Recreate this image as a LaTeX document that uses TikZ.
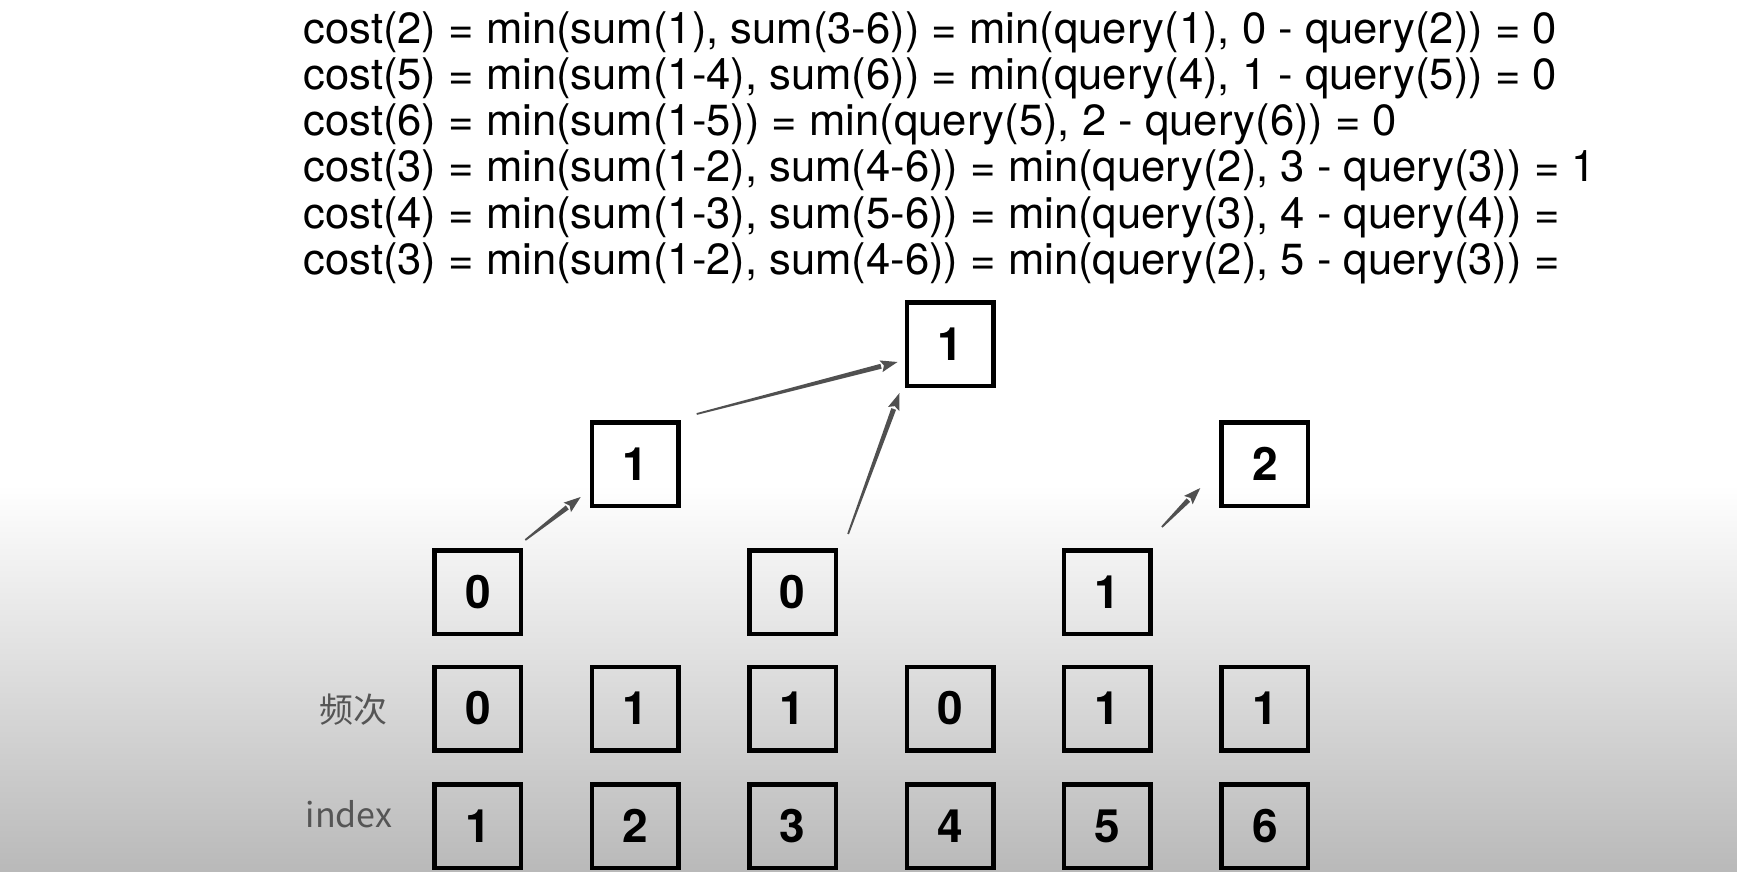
\documentclass[tikz,border=0pt]{standalone}
\usepackage{fontspec}
\setmainfont{TeX Gyre Heros}
\newfontfamily\cjk{Noto Sans CJK SC}
\usetikzlibrary{calc,arrows.meta}
\definecolor{arrowgray}{HTML}{505050}
\definecolor{labelgray}{HTML}{555555}
\definecolor{bggray}{HTML}{B9B9B9}
\newcommand\taperarrow[2]{%
  \coordinate (tS) at (#1);
  \coordinate (tE) at (#2);
  \coordinate (tH) at ($(tE)!8.5pt!(tS)$);
  \fill[arrowgray] ($(tS)!0.45pt!90:(tE)$) -- ($(tH)!1.25pt!-90:(tS)$)
     -- ($(tH)!1.25pt!90:(tS)$) -- ($(tS)!0.45pt!-90:(tE)$) -- cycle;
  \fill[arrowgray] (tE) -- ($(tH)!3pt!-90:(tS)$) -- ($(tE)!7pt!(tS)$)
     -- ($(tH)!3pt!90:(tS)$) -- cycle;
}
\begin{document}
\begin{tikzpicture}[x=0.5pt,y=-0.5pt]
\tikzset{
  eq/.style={anchor=base west, inner sep=0pt, font=\fontsize{21.8pt}{23pt}\selectfont},
  cell/.style={draw=black, line width=2.25pt, minimum width=43.25pt, minimum height=41.75pt,
    inner sep=0pt, font=\fontsize{23pt}{24pt}\selectfont\bfseries},
  lbl/.style={inner sep=0pt, text=labelgray, font=\cjk\fontsize{17pt}{20pt}\selectfont}
}
\useasboundingbox (0,0) rectangle (1737,872);
\fill[white] (0,0) rectangle (1737,486);
\shade[top color=white, bottom color=bggray] (0,485) rectangle (1737,872);

\node[eq] (l1) at (303,44) {cost(2) = min(sum(1), sum(3-6)) = min(query(1), 0 - query(2)) = 0};
\node[eq] (l2) at (303,90) {cost(5) = min(sum(1-4), sum(6)) = min(query(4), 1 - query(5)) = 0};
\node[eq] (l3) at (303,136) {cost(6) = min(sum(1-5)) = min(query(5), 2 - query(6)) = 0};
\node[eq] (l4) at (303,182) {cost(3) = min(sum(1-2), sum(4-6)) = min(query(2), 3 - query(3)) = 1};
\node[eq] (l5) at (303,228) {cost(4) = min(sum(1-3), sum(5-6)) = min(query(3), 4 - query(4)) =};
\node[eq] (l6) at (303,274) {cost(3) = min(sum(1-2), sum(4-6)) = min(query(2), 5 - query(3)) =};

\node[cell] (i1) at (477.8,826) {1};
\node[cell] (i2) at (635.2,826) {2};
\node[cell] (i3) at (792.6,826) {3};
\node[cell] (i4) at (950,826) {4};
\node[cell] (i5) at (1107.4,826) {5};
\node[cell] (i6) at (1264.8,826) {6};

\node[cell] (f1) at (477.8,708.5) {0};
\node[cell] (f2) at (635.2,708.5) {1};
\node[cell] (f3) at (792.6,708.5) {1};
\node[cell] (f4) at (950,708.5) {0};
\node[cell] (f5) at (1107.4,708.5) {1};
\node[cell] (f6) at (1264.8,708.5) {1};

\node[cell] (a1) at (477.8,592) {0};
\node[cell] (a3) at (792.6,592) {0};
\node[cell] (a5) at (1107.4,592) {1};

\node[cell] (b2) at (635.2,464) {1};
\node[cell] (b6) at (1264.8,464) {2};

\node[cell] (c4) at (950,344) {1};

\node[lbl] (lf) at (353,710) {频次};
\node[lbl] (li) at (349,814) {index};

\taperarrow{$(a1.north east)+(2,-8)$}{$(b2.south west)+(-9,-11)$}
\taperarrow{$(b2.north east)+(16,-6)$}{$(c4.west)+(-7,18)$}
\taperarrow{$(a3.north east)+(10,-14)$}{$(c4.south west)+(-5,5)$}
\taperarrow{$(a5.north east)+(9,-21)$}{$(b6.south west)+(-19,-20)$}
\end{tikzpicture}
\end{document}
